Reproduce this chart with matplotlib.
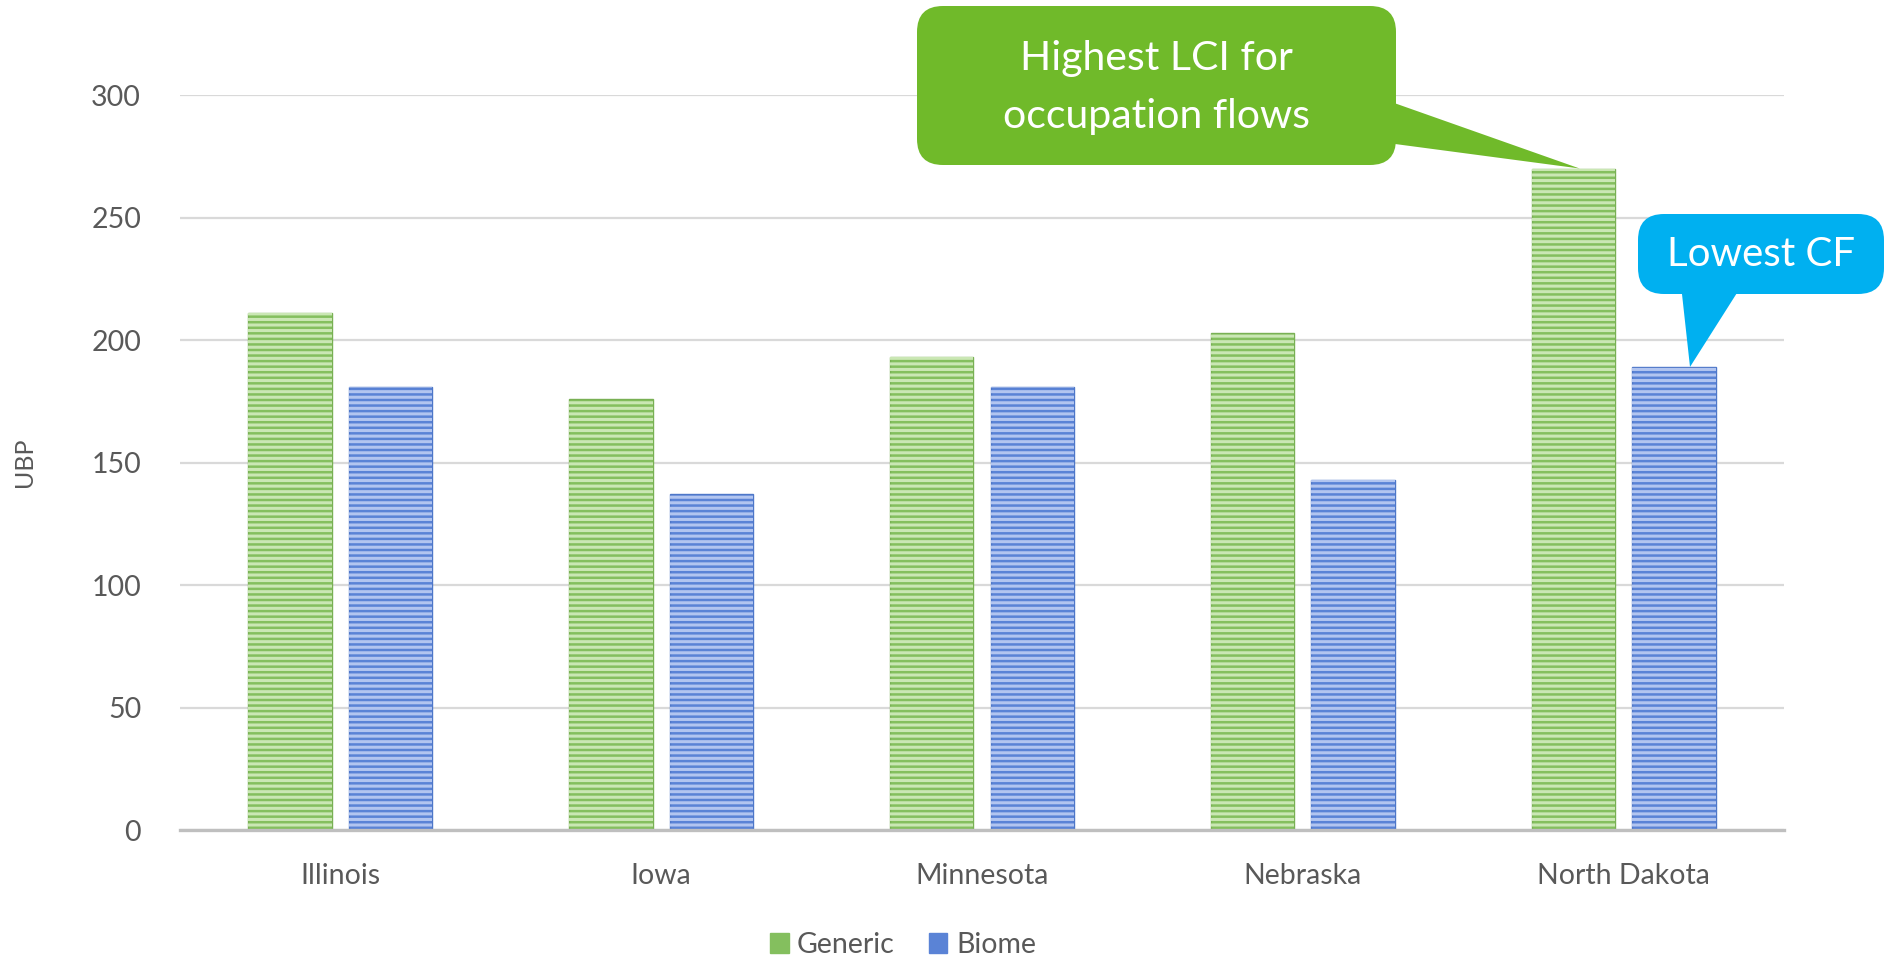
import matplotlib.pyplot as plt
import matplotlib.transforms as mtransforms
from matplotlib.patches import FancyBboxPatch, Polygon
import numpy as np

states = ["Illinois", "Iowa", "Minnesota", "Nebraska", "North Dakota"]
generic = [211, 176, 193, 203, 270]
biome = [181, 137, 181, 143, 189]
yticks = [0, 50, 100, 150, 200, 250, 300]

W, H = 1884, 963
plt.rcParams['font.family'] = ['Lato', 'DejaVu Sans']
plt.rcParams['hatch.linewidth'] = 2.2

fig = plt.figure(figsize=(W / 100, H / 100), dpi=100)
ax = fig.add_axes([180 / W, 1 - 830 / H, (1784 - 180) / W, (830 - 95) / H])
ax.set_xlim(-0.5, len(states) - 0.5)
ax.set_ylim(0, 300)

x = np.arange(len(states))
bw = 0.26
off = 0.157

# solid body then light horizontal stripes on top
ax.bar(x - off, generic, bw, color="#84bf5e", edgecolor="#79b054", linewidth=1, zorder=2)
ax.bar(x - off, generic, bw, fill=False, hatch="---", edgecolor="#cae7b4", linewidth=0, zorder=3)
ax.bar(x + off, biome, bw, color="#5a83d6", edgecolor="#4e77c8", linewidth=1, zorder=2)
ax.bar(x + off, biome, bw, fill=False, hatch="---", edgecolor="#b2c5f0", linewidth=0, zorder=3)

ax.set_xticks(x)
ax.set_xticklabels(states)
ax.set_yticks(yticks)
ax.tick_params(axis='both', length=0, labelsize=20.5, colors="#595959")
ax.tick_params(axis='x', pad=24)
ax.tick_params(axis='y', pad=28)
ax.grid(axis='y', color="#d9d9d9", linewidth=1.6, zorder=0)
ax.set_axisbelow(True)
for s in ["top", "right", "left"]:
    ax.spines[s].set_visible(False)
ax.spines["bottom"].set_color("#bfbfbf")
ax.spines["bottom"].set_linewidth(2.4)
ax.spines["bottom"].set_zorder(4)

fig.text(24 / W, 1 - 462 / H, "UBP", rotation=90, ha="center", va="center",
         fontsize=18, color="#595959")

# legend
hg = plt.Rectangle((0, 0), 1, 1, color="#84bf5e")
hb = plt.Rectangle((0, 0), 1, 1, color="#5a83d6")
leg = fig.legend([hg, hb], ["Generic", "Biome"], loc="center", ncol=2,
                 bbox_to_anchor=(903 / W, 1 - 945 / H), frameon=False,
                 fontsize=20.5, handlelength=0.65, handleheight=0.65,
                 handletextpad=0.3, columnspacing=1.2)
for t in leg.get_texts():
    t.set_color("#595959")

# callouts in pixel coordinates (origin top-left)
pix = mtransforms.Affine2D().scale(1, -1).translate(0, H)


def tip_of(xv, yv):
    dx, dy = ax.transData.transform((xv, yv))
    return dx, H - dy


def callout(box, base, tip, color, text, size, dy=0):
    x0, y0, x1, y1 = box
    r = 26
    fig.patches.append(FancyBboxPatch((x0 + r, y0 + r), x1 - x0 - 2 * r, y1 - y0 - 2 * r,
                                      boxstyle="round,pad=%d" % r, transform=pix,
                                      facecolor=color, edgecolor="none", figure=fig))
    fig.patches.append(Polygon([base[0], base[1], tip], closed=True, transform=pix,
                               facecolor=color, edgecolor="none", figure=fig))
    fig.text(*pix.transform(((x0 + x1) / 2, (y0 + y1) / 2 + dy)), text, transform=None,
             ha="center", va="center", color="white", fontsize=size, linespacing=1.7)


g_tip = tip_of(4 - off + 0.02, generic[4])
callout((917, 6, 1396, 165), ((1380, 98), (1380, 142)), g_tip,
        "#70ba2a", "Highest LCI for\noccupation flows", 29.5, dy=2)

b_tip = tip_of(4 + off + 0.05, biome[4])
callout((1638, 214, 1884, 294), ((1681, 285), (1742, 285)), b_tip,
        "#00b0f0", "Lowest CF", 29)

fig.savefig("out.png", dpi=100)
